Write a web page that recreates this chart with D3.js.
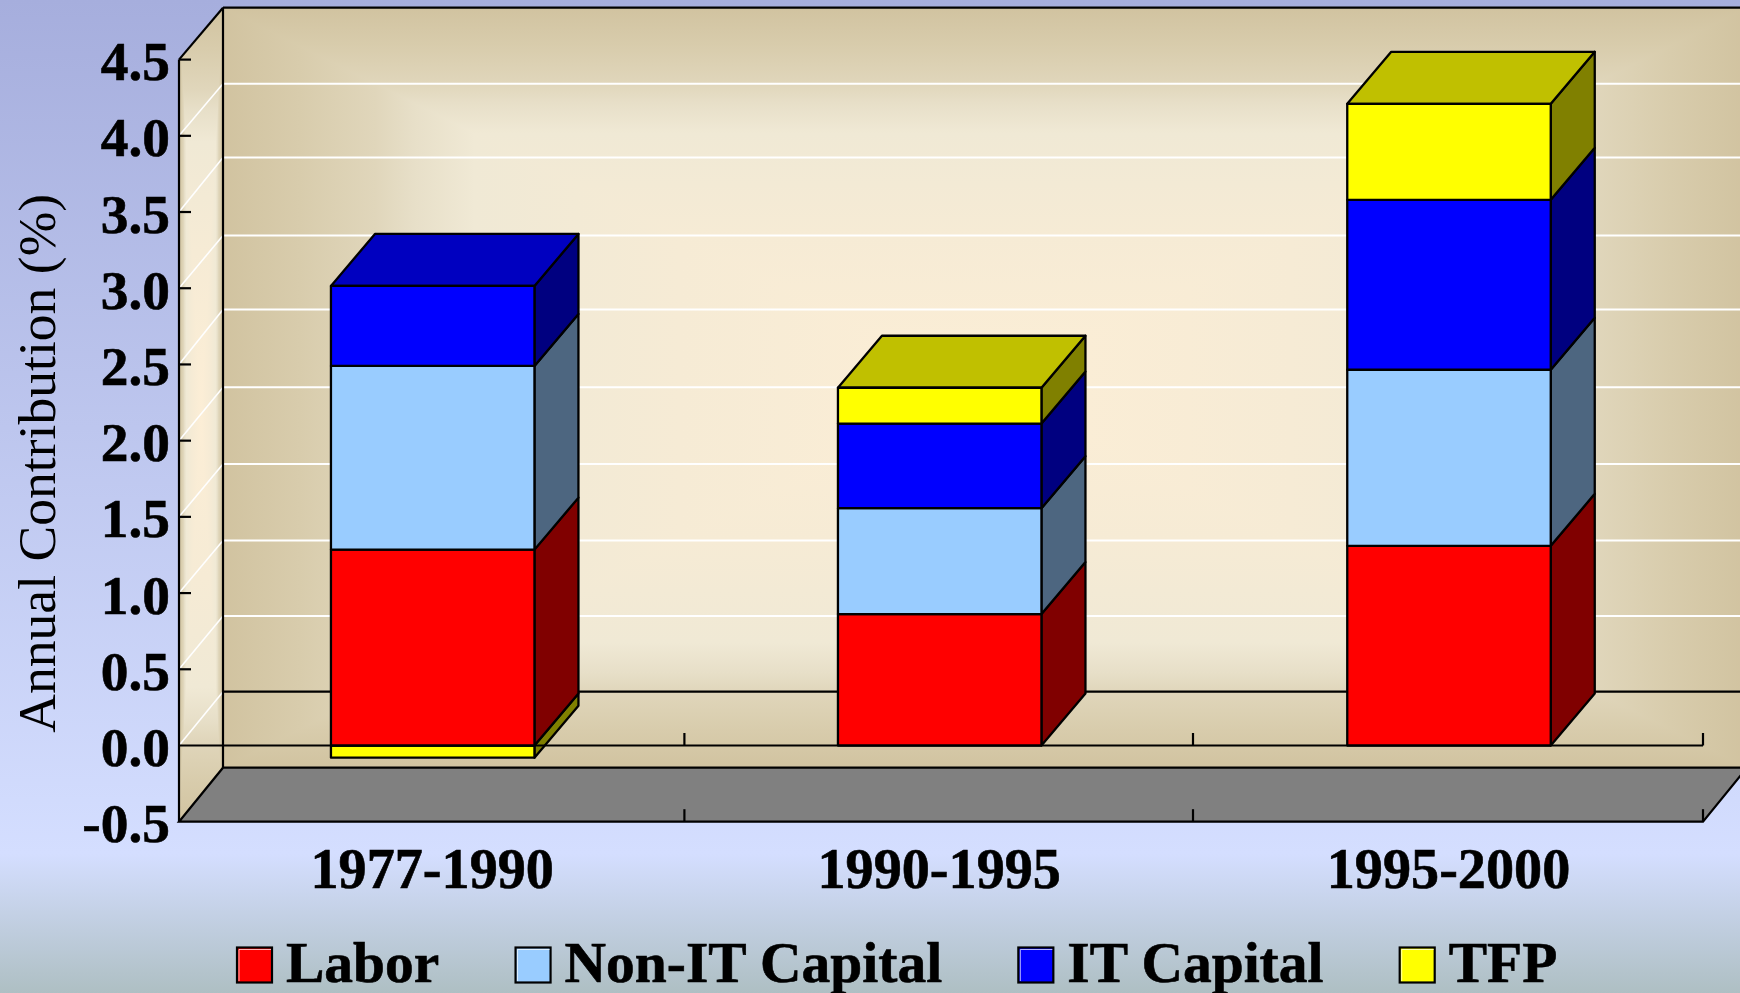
<!DOCTYPE html>
<html><head><meta charset="utf-8">
<script src="https://cdnjs.cloudflare.com/ajax/libs/d3/7.8.5/d3.min.js"></script>
<style>html,body{margin:0;padding:0;background:#d4deff}svg{display:block}text{font-family:"Liberation Serif","Times New Roman",serif;fill:#000}</style>
</head><body><svg id="c" width="1740" height="993"></svg>
<script>
const categories = ["1977-1990","1990-1995","1995-2000"];
const seriesNames = ["Labor","Non-IT Capital","IT Capital","TFP"];
const labor = [1.285,0.862,1.31];
const nonIT = [1.205,0.695,1.155];
const itCapital = [0.525,0.555,1.115];
const tfp = [-0.08,0.235,0.63];
const seriesValues = [labor,nonIT,itCapital,tfp];
const yTicks = [-0.5,0,0.5,1,1.5,2,2.5,3,3.5,4,4.5];
const faceColors = ["#ff0000","#99ccff","#0000ff","#ffff00"];
const sideColors = ["#800000","#4d6680","#000080","#808000"];
const topColors  = ["#c00000","#7aa3cc","#0000c0","#c0c000"];
const wallStops = [[0,"#d1c3a0"],[0.1,"#d8ccac"],[0.2,"#e0d6bb"],[0.25,"#e7dfc8"],[0.33,"#f0e9d5"],[0.6,"#f6ebd5"],[1,"#fceed6"]];
const pageStops = [[0,"#a6aedd"],[0.86,"#d4deff"],[1,"#aebfc3"]];

const W=1740,H=993;
const svg=d3.select("#c");
const defs=svg.append("defs");
const fL=179,fR=1703,dX=44,dY=52;
const y=d3.scaleLinear().domain([-0.5,4.5]).range([821.7,59.6]);
const yBack=d3.scaleLinear().domain(yTicks).range([767.7,691.7,615.9,540.4,463.9,387.3,309.6,235.5,157.5,83.7,7.7]);
const x=d3.scaleLinear().domain([0,1,2,3]).range([fL,684.4,1193,fR]);
const barW=203.5;
const bL=fL+dX,bR=fR+dX;

function grad(id,stops,x1,y1,x2,y2){
  const g=defs.append("linearGradient").attr("id",id).attr("gradientUnits","userSpaceOnUse")
    .attr("x1",x1).attr("y1",y1).attr("x2",x2).attr("y2",y2);
  g.selectAll("stop").data(stops).join("stop").attr("offset",d=>d[0]).attr("stop-color",d=>d[1]);
}
grad("page",pageStops,0,0,0,H);
svg.append("rect").attr("width",W).attr("height",H).attr("fill","url(#page)");

const pts=a=>a.map(p=>p.join(",")).join(" ");
function rectGrad(g,id,x0,y0,x1,y1){
  const cx=(x0+x1)/2,cy=(y0+y1)/2;
  const parts=[
    [[[x0,y0],[x1,y0],[cx,cy]],[cx,y0]],
    [[[x1,y0],[x1,y1],[cx,cy]],[x1,cy]],
    [[[x1,y1],[x0,y1],[cx,cy]],[cx,y1]],
    [[[x0,y1],[x0,y0],[cx,cy]],[x0,cy]]];
  parts.forEach((p,i)=>{
    grad(id+i,wallStops,p[1][0],p[1][1],cx,cy);
    g.append("polygon").attr("points",pts(p[0])).attr("fill",`url(#${id+i})`).attr("shape-rendering","crispEdges");
  });
}
const topB=yBack(4.5),botB=yBack(-0.5);
rectGrad(svg.append("g"),"wb",bL,topB,bR,botB);
defs.append("clipPath").attr("id","lw").append("polygon")
  .attr("points",pts([[fL,y(4.5)],[bL,topB],[bL,botB],[fL,y(-0.5)]]));
rectGrad(svg.append("g").attr("clip-path","url(#lw)"),"wl",fL,topB,bL,y(-0.5));

const grid=yTicks.filter(v=>v>-0.5&&v<4.5);
svg.append("g").selectAll("line").data(grid.filter(v=>v!==0)).join("line")
  .attr("x1",bL).attr("x2",W).attr("y1",d=>yBack(d)).attr("y2",d=>yBack(d))
  .attr("stroke","#fff").attr("stroke-width",2);
svg.append("g").selectAll("line").data(grid).join("line")
  .attr("x1",fL).attr("x2",bL).attr("y1",d=>y(d)).attr("y2",d=>yBack(d))
  .attr("stroke","#fff").attr("stroke-width",1.6);

svg.append("polygon").attr("points",pts([[fL,y(-0.5)],[bL,botB],[bR,botB],[fR,y(-0.5)]]))
  .attr("fill","#808080").attr("stroke","#000").attr("stroke-width",2.2).attr("stroke-linejoin","miter");
const frame=svg.append("g").attr("stroke","#000").attr("stroke-width",2.2).attr("fill","none");
frame.append("line").attr("x1",bL).attr("x2",W).attr("y1",topB).attr("y2",topB);
frame.append("line").attr("x1",bL).attr("x2",bL).attr("y1",topB).attr("y2",botB);
frame.append("line").attr("x1",fL).attr("x2",bL).attr("y1",y(4.5)).attr("y2",topB);
frame.append("line").attr("x1",bL).attr("x2",W).attr("y1",yBack(0)).attr("y2",yBack(0));
frame.append("line").attr("x1",fL).attr("x2",fL).attr("y1",y(4.5)).attr("y2",y(-0.5));
frame.selectAll(".yt").data(yTicks.filter(v=>v>0)).join("line").attr("class","yt")
  .attr("x1",fL).attr("x2",fL+12).attr("y1",d=>y(d)).attr("y2",d=>y(d));
[0,-0.5].forEach(v=>{
  frame.selectAll(".xt"+(v?"b":"a")).data([1,2,3]).join("line").attr("class","xt"+(v?"b":"a"))
    .attr("x1",d=>x(d)).attr("x2",d=>x(d)).attr("y1",y(v)).attr("y2",y(v)-12.5);
});

const segs=[];
categories.forEach((c,i)=>{
  let pos=0;
  seriesValues.forEach((s,k)=>{
    const v=s[i];
    if(v>=0){segs.push({i,k,v0:pos,v1:pos+v});pos+=v;}
    else segs.push({i,k,v0:0,v1:v});
  });
});
function box(g,d,isTop){
  const cx=x(d.i+0.5)+1,x0=cx-barW/2,x1=cx+barW/2;
  const hi=Math.max(d.v0,d.v1),lo=Math.min(d.v0,d.v1);
  const yh=y(hi),yl=y(lo);
  const add=(points,fill)=>g.append("polygon").attr("points",pts(points)).attr("fill",fill)
    .attr("stroke","#000").attr("stroke-width",2.3).attr("stroke-linejoin","round");
  add([[x1,yh],[x1+dX,yh-dY],[x1+dX,yl-dY],[x1,yl]],sideColors[d.k]);
  if(isTop) add([[x0,yh],[x0+dX,yh-dY],[x1+dX,yh-dY],[x1,yh]],topColors[d.k]);
  add([[x0,yh],[x1,yh],[x1,yl],[x0,yl]],faceColors[d.k]);
}
const negG=svg.append("g");
segs.filter(d=>d.v1<0).forEach(d=>box(negG,d,false));
svg.append("line").attr("x1",fL).attr("x2",fR).attr("y1",y(0)).attr("y2",y(0)).attr("stroke","#000").attr("stroke-width",2.2);
const posG=svg.append("g");
categories.forEach((c,i)=>{
  const ss=segs.filter(d=>d.i===i&&d.v1>=0);
  ss.forEach((d,j)=>box(posG,d,j===ss.length-1));
});

const bold=s=>s.attr("font-weight","bold").attr("stroke","#000").attr("stroke-width",0.6);
svg.append("g").selectAll("text").data(yTicks).join("text")
  .attr("x",170).attr("y",d=>y(d)+20.5).attr("text-anchor","end")
  .attr("font-size",55.4).call(bold).text(d=>d.toFixed(1));
svg.append("g").selectAll("text").data(categories).join("text")
  .attr("x",(d,i)=>x(i+0.5)+0.5).attr("y",887.5).attr("text-anchor","middle")
  .attr("font-size",56.2).call(bold).text(d=>d);
svg.append("text").attr("transform","translate(54.5,463.3) rotate(-90)").attr("text-anchor","middle")
  .attr("font-size",53.6).text("Annual Contribution (%)");
const lg=svg.append("g");let lx=237;
seriesNames.forEach((n,k)=>{
  lg.append("rect").attr("x",lx).attr("y",947.5).attr("width",35).attr("height",35)
    .attr("fill",faceColors[k]).attr("stroke","#000").attr("stroke-width",2.2);
  lg.append("polyline").attr("points",pts([[lx+2,981],[lx+2,949.5],[lx+34,949.5]])).attr("fill","none")
    .attr("stroke","#fff").attr("stroke-opacity",0.7).attr("stroke-width",1);
  const t=lg.append("text").attr("x",lx+35+14).attr("y",981.7).attr("font-size",57.5).call(bold).text(n);
  lx+=35+14+t.node().getComputedTextLength()+76.2;
});
</script></body></html>
